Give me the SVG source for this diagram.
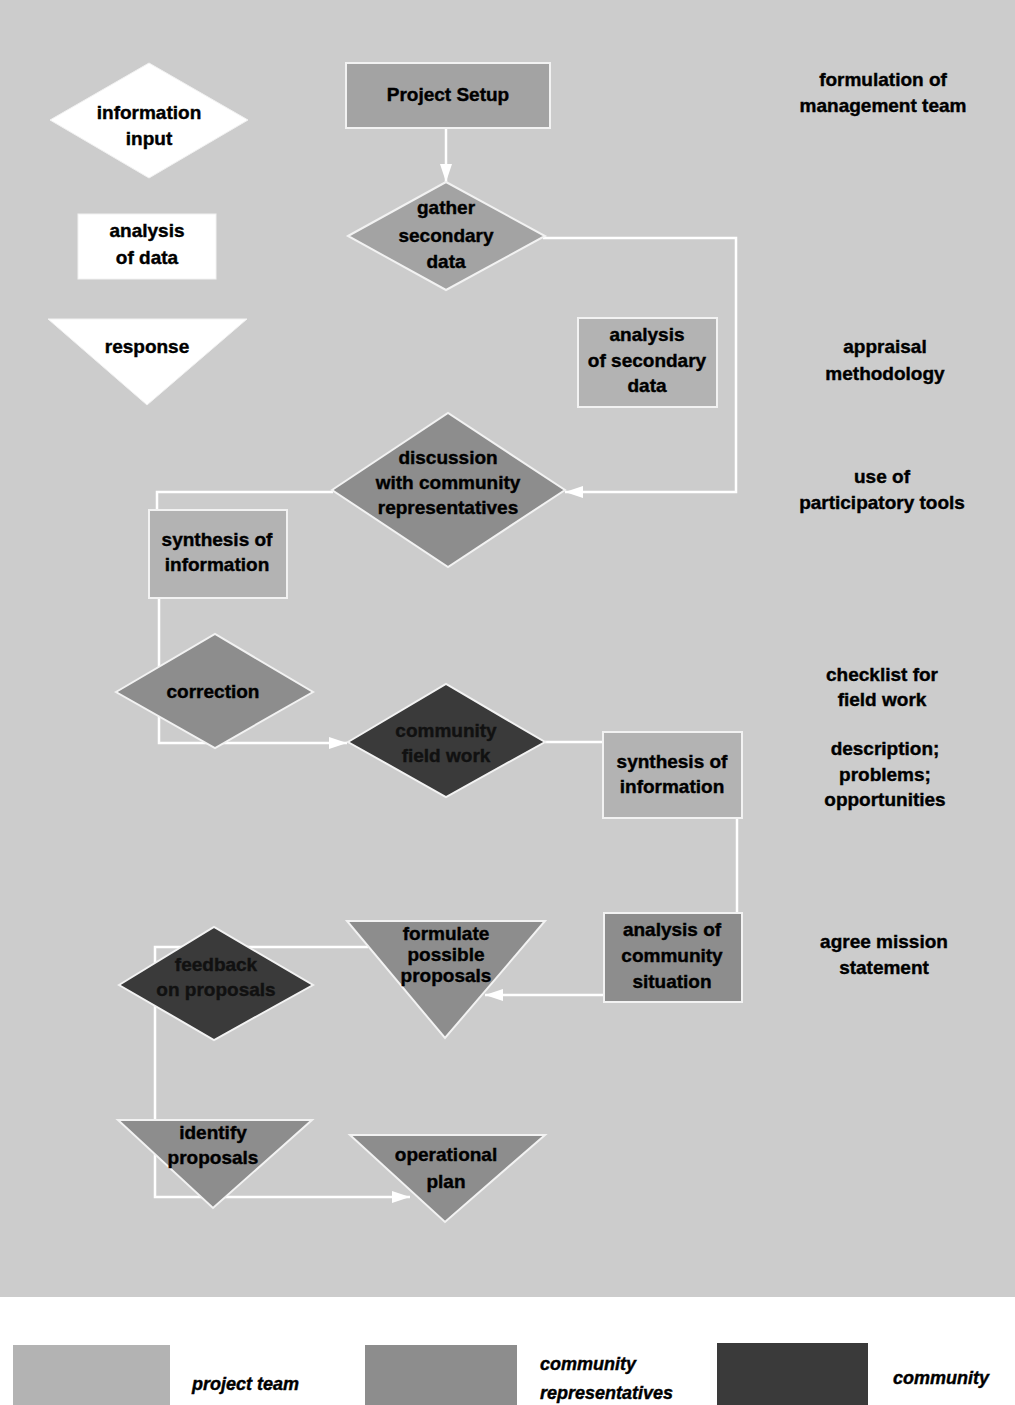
<svg xmlns="http://www.w3.org/2000/svg" width="1015" height="1405" viewBox="0 0 1015 1405">
<style>
text{font-family:"Liberation Sans",Arial,sans-serif;font-weight:bold;font-size:19px;fill:#000;stroke:#000;stroke-width:0.4;text-anchor:middle}
.leg{font-style:italic;text-anchor:start;font-size:18px}
.pt{fill:#b3b3b3;stroke:#f2f2f2;stroke-width:2}
.ps{fill:#a3a3a3;stroke:#f2f2f2;stroke-width:2}
.cr{fill:#8d8d8d;stroke:#f2f2f2;stroke-width:2}
.cm{fill:#3a3a3a;stroke:#f2f2f2;stroke-width:2}
.wh{fill:#ffffff;stroke:#f2f2f2;stroke-width:1}
.dk{fill:#111;stroke:#111}
#connectors path{fill:none;stroke:#ffffff;stroke-width:2.5}
</style>
<defs>
<marker id="arr" markerUnits="userSpaceOnUse" markerWidth="20" markerHeight="12" refX="18" refY="6" orient="auto">
<path d="M0,0 L18,6 L0,12 z" fill="#ffffff"/>
</marker>
</defs>
<rect x="0" y="0" width="1015" height="1297" fill="#cccccc"/>
<rect x="0" y="1297" width="1015" height="108" fill="#ffffff"/>

<g id="connectors">
<path d="M446,128 V182" marker-end="url(#arr)"/>
<path d="M543,238 H736 V492 H565" marker-end="url(#arr)"/>
<path d="M333,492 H157 V510"/>
<path d="M159,598 V743 H347" marker-end="url(#arr)"/>
<path d="M545,742 H603"/>
<path d="M737,818 V913"/>
<path d="M604,995 H485" marker-end="url(#arr)"/>
<path d="M368,947 H155 V1197 H410" marker-end="url(#arr)"/>
</g>

<g id="key-information-input">
<polygon class="wh" points="50,120 149,63 248,120 149,178"/>
<text x="149" y="119">information</text>
<text x="149" y="145">input</text>
</g>
<g id="key-analysis-of-data">
<rect class="wh" x="78" y="214" width="138" height="65"/>
<text x="147" y="237">analysis</text>
<text x="147" y="264">of data</text>
</g>
<g id="key-response">
<polygon class="wh" points="48,319 247,319 147,405"/>
<text x="147" y="353">response</text>
</g>

<g id="project-setup">
<rect class="ps" x="346" y="63" width="204" height="65"/>
<text x="448" y="101">Project Setup</text>
</g>
<g id="gather-secondary-data">
<polygon class="ps" points="348,236 446,182 545,236 446,290"/>
<text x="446" y="214">gather</text>
<text x="446" y="242">secondary</text>
<text x="446" y="268">data</text>
</g>
<g id="analysis-secondary-data">
<rect class="pt" x="578" y="318" width="139" height="89"/>
<text x="647" y="341">analysis</text>
<text x="647" y="367">of secondary</text>
<text x="647" y="392">data</text>
</g>
<g id="discussion">
<polygon class="cr" points="332,490 448,413 565,490 448,567"/>
<text x="448" y="464">discussion</text>
<text x="448" y="489">with community</text>
<text x="448" y="514">representatives</text>
</g>
<g id="synthesis-1">
<rect class="pt" x="149" y="510" width="138" height="88"/>
<text x="217" y="546">synthesis of</text>
<text x="217" y="571">information</text>
</g>
<g id="correction">
<polygon class="cr" points="116,692 215,634 313,692 215,748"/>
<text x="213" y="698">correction</text>
</g>
<g id="community-field-work">
<polygon class="cm" points="348,742 446,684 545,742 446,797"/>
<text class="dk" x="446" y="737">community</text>
<text class="dk" x="446" y="762">field work</text>
</g>
<g id="synthesis-2">
<rect class="pt" x="603" y="732" width="139" height="86"/>
<text x="672" y="768">synthesis of</text>
<text x="672" y="793">information</text>
</g>
<g id="analysis-community-situation">
<rect class="cr" x="604" y="913" width="138" height="89"/>
<text x="672" y="936">analysis of</text>
<text x="672" y="962">community</text>
<text x="672" y="988">situation</text>
</g>
<g id="formulate-proposals">
<polygon class="cr" points="347,921 545,921 445,1038"/>
<text x="446" y="940">formulate</text>
<text x="446" y="961">possible</text>
<text x="446" y="982">proposals</text>
</g>
<g id="feedback-on-proposals">
<polygon class="cm" points="119,985 214,927 313,985 214,1040"/>
<text class="dk" x="216" y="971">feedback</text>
<text class="dk" x="216" y="996">on proposals</text>
</g>
<g id="identify-proposals">
<polygon class="cr" points="118,1120 312,1120 213,1208"/>
<text x="213" y="1139">identify</text>
<text x="213" y="1164">proposals</text>
</g>
<g id="operational-plan">
<polygon class="cr" points="350,1135 545,1135 445,1222"/>
<text x="446" y="1161">operational</text>
<text x="446" y="1188">plan</text>
</g>

<g id="side-labels">
<text x="883" y="86">formulation of</text>
<text x="883" y="112">management team</text>
<text x="885" y="353">appraisal</text>
<text x="885" y="380">methodology</text>
<text x="882" y="483">use of</text>
<text x="882" y="509">participatory tools</text>
<text x="882" y="681">checklist for</text>
<text x="882" y="706">field work</text>
<text x="885" y="755">description;</text>
<text x="885" y="781">problems;</text>
<text x="885" y="806">opportunities</text>
<text x="884" y="948">agree mission</text>
<text x="884" y="974">statement</text>
</g>

<g id="legend">
<rect x="13" y="1345" width="157" height="60" fill="#b3b3b3"/>
<text class="leg" x="192" y="1390">project team</text>
<rect x="365" y="1345" width="152" height="60" fill="#8d8d8d"/>
<text class="leg" x="540" y="1370">community</text>
<text class="leg" x="540" y="1399">representatives</text>
<rect x="717" y="1343" width="151" height="62" fill="#3a3a3a"/>
<text class="leg" x="893" y="1384">community</text>
</g>
</svg>
